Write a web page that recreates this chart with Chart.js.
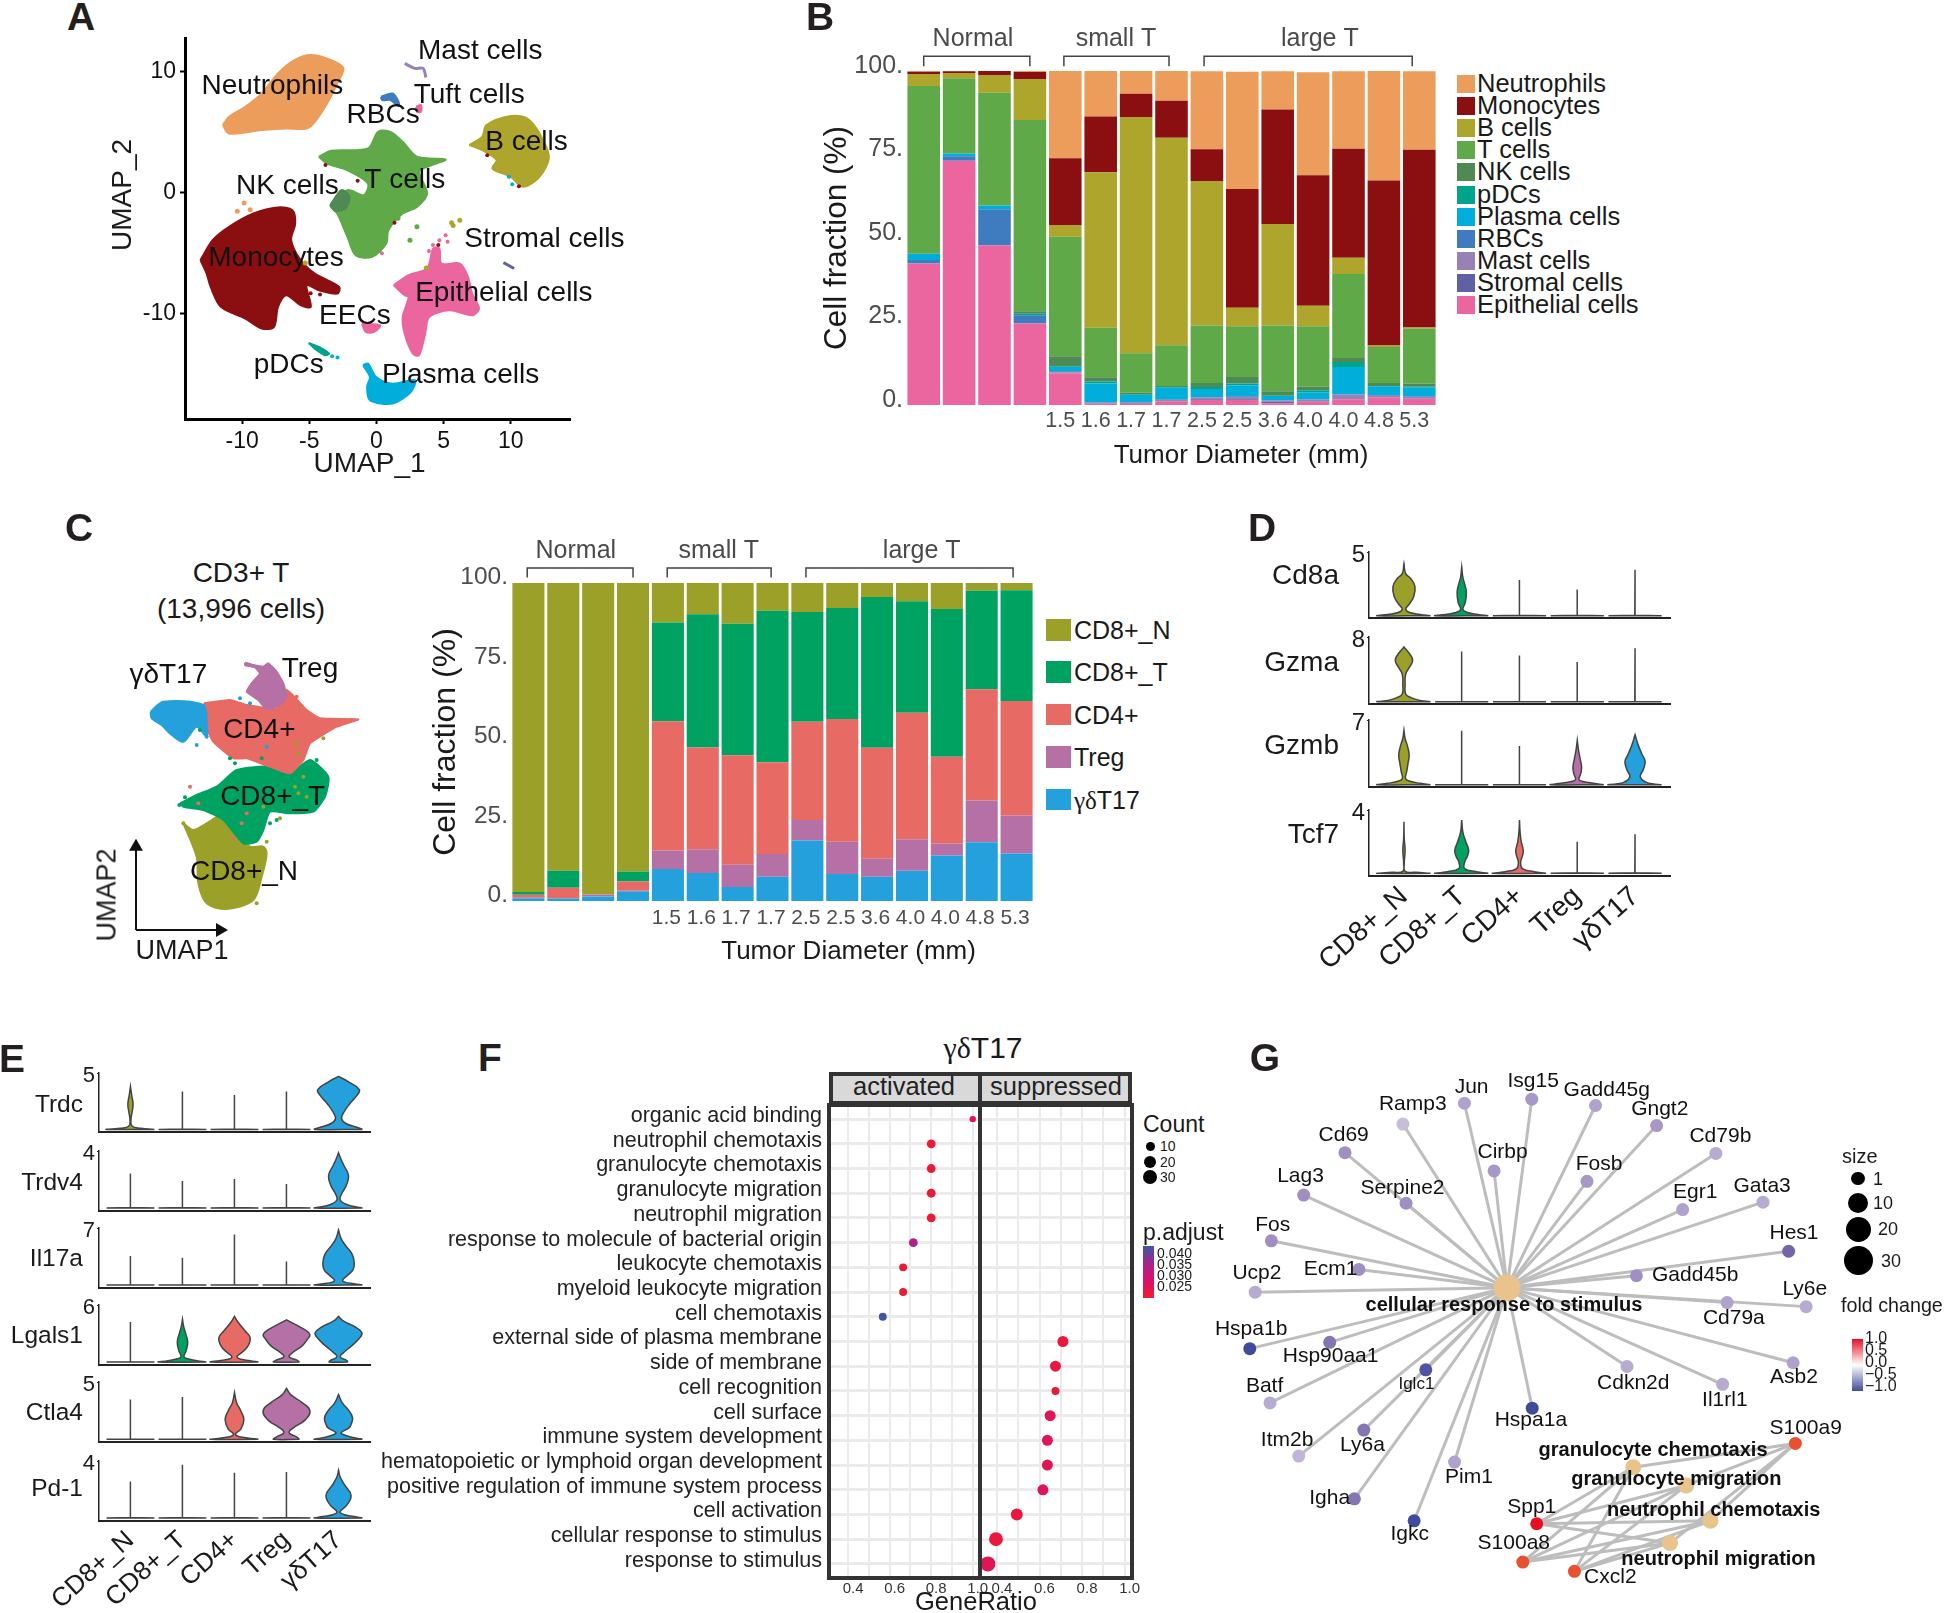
<!DOCTYPE html>
<html>
<head>
<meta charset="utf-8">
<title>T cell figure</title>
<script src="https://cdn.jsdelivr.net/npm/chart.js@4.4.0/dist/chart.umd.js"></script>
<style>
  html, body { margin: 0; background: #fff; }
  #page { position: relative; width: 1944px; height: 1613px; overflow: hidden; font-family: "Liberation Sans", Arial, sans-serif; }
  #page canvas { position: absolute; }
  .lbl { position: absolute; white-space: nowrap; line-height: 1; color: #1a1a1a; }
  .box { position: absolute; }
</style>
</head>
<body>
<div id="page"></div>
<script>
// ---------- panel A: UMAP cluster outlines (UMAP_1, UMAP_2)
const neutrophilOutline = [[-11.43,5.59],[-10.97,6.28],[-9.76,7.11],[-8.54,8.21],[-7.33,9.86],[-6.11,10.96],[-4.89,11.38],[-3.37,10.96],[-2.46,10.28],[-2.92,9.04],[-3.68,7.38],[-4.59,5.87],[-5.2,5.32],[-6.72,5.32],[-8.54,5.18],[-10.97,4.9]];
const monocyteOutline = [[-13.1,-5.56],[-12.19,-3.91],[-10.97,-2.81],[-9.15,-1.71],[-7.33,-1.21],[-6.26,-1.43],[-6.05,-2.53],[-6.35,-3.91],[-5.65,-5.56],[-4.59,-6.67],[-2.77,-7.77],[-2.92,-8.32],[-4.29,-8.04],[-5.2,-7.63],[-4.89,-9.42],[-5.65,-9.28],[-6.72,-8.46],[-7.33,-9.42],[-7.63,-11.07],[-8.54,-11.21],[-9.76,-10.39],[-11.58,-9.42],[-12.34,-7.77],[-12.64,-6.67]];
const tCellOutline = [[-4.29,2.98],[-3.37,3.47],[-0.64,3.66],[0.12,5.04],[1.03,5.04],[1.95,4.21],[3.01,2.98],[5.14,2.75],[3.77,2.15],[3.16,1.74],[3.77,-0.06],[3.01,-1.16],[1.95,-1.71],[0.88,-3.09],[0.73,-4.19],[-0.33,-5.29],[-1.55,-5.15],[-2.16,-3.64],[-2.92,-1.71],[-3.43,-1.02],[-2.16,0.22],[-0.94,-0.19],[-0.64,0.77],[-2.16,1.87],[-3.68,2.42]];
const nkOutline = [[-3.43,-1.02],[-2.61,0.22],[-2.01,-0.33],[-2.31,-1.29],[-3.07,-1.49]];
const bCellOutline = [[6.9,3.94],[7.87,4.63],[8.18,5.59],[10,6.34],[11.22,6.14],[12.13,4.9],[12.83,2.98],[12.13,1.32],[10.91,0.5],[10,1.32],[8.63,2.01],[8.94,2.7],[7.87,3.53]];
const epithelialOutline = [[1.28,-7.63],[2.4,-6.8],[3.77,-6.25],[4.22,-4.6],[4.68,-4.6],[4.83,-5.84],[6.2,-5.84],[6.81,-6.94],[7.11,-8.32],[7.63,-9.56],[7.11,-10.11],[5.44,-9.7],[3.92,-10.25],[3.62,-11.63],[3.16,-13.42],[2.71,-13.28],[2.1,-11.63],[1.95,-10.25],[2.4,-8.6],[2.1,-8.46]];
const eecOutline = [[-1.09,-10.8],[0.27,-10.94],[-0.18,-11.49],[-0.79,-11.49]];
const plasmaOutline = [[-1,-14.24],[-0.64,-14.1],[-0.03,-15.21],[1.19,-15.76],[2.86,-15.48],[2.55,-16.45],[1.19,-17.41],[-0.49,-17.13],[-0.7,-16.03],[-0.49,-15.21]];
const pdcOutline = [[-5.05,-12.4],[-4.29,-12.73],[-3.53,-13.28],[-3.83,-13.42],[-4.59,-12.87]];
const rbcOutline = [[0.33,7.93],[1.19,8.2],[1.64,7.52],[1.64,7.16],[1.03,7.66],[0.43,7.66]];
const tuftOutline = [[2.95,7.11],[3.31,7.25],[3.31,6.69],[3.01,6.69]];
const mastTrace = [[2.1,10.69],[2.86,10.28],[3.47,10.28],[3.68,9.53]];
const stromalTrace = [[9.45,-5.76],[10.24,-6.25]];
const strayOrange = [[-10.36,-1.52],[-9.85,-0.83],[-9.4,-1.4]];
const strayRed = [[8.24,3.11],[10.6,0.55],[1.34,-2.48],[-1.4,1.0],[-3.8,2.3],[-4.2,-8.4],[-4.9,-8.3],[4.6,-4.3]];
const strayGreen = [[3.01,-2.81],[2.49,-3.91],[1.6,-2.1],[1.2,-1.9]];
const strayOlive = [[5.59,-2.48],[6.2,-2.26],[5.7,-2.7],[-5.3,-5.8],[3.7,-6.2]];
const strayPink = [[5.14,-3.5],[4.68,-3.91],[5.29,-4.05],[4.2,-4.3],[0.4,-5.0],[3.9,-4.8]];
const strayBlue = [[9.85,1.32],[10.1,0.7],[-2.9,-13.6],[-3.3,-13.5]];
const umapClusterLabels = ['Mast cells','Neutrophils','Tuft cells','RBCs','B cells','T cells','NK cells','Stromal cells','Monocytes','Epithelial cells','EECs','pDCs','Plasma cells'];
const umapClusterLabelX = [7.72,-7.75,6.9,0.49,11.16,2.1,-6.63,12.49,-7.48,9.48,-1.61,-6.53,6.26];
const umapClusterLabelY = [11.65,8.76,8.07,6.42,4.21,1.05,0.55,-3.86,-5.43,-8.32,-10.17,-14.24,-15.07];

// ---------- panel B: cell fractions
const diameters = ['','','','','1.5','1.6','1.7','1.7','2.5','2.5','3.6','4.0','4.0','4.8','5.3'];
const cellNames = ['Neutrophils','Monocytes','B cells','T cells','NK cells','pDCs','Plasma cells','RBCs','Mast cells','Stromal cells','Epithelial cells'];
const neutrophils = [.2,.1,.1,.3,26.2,13.6,6.8,8.9,23.3,35.1,11.4,30.8,23.2,32.8,23.5];
const monocytes = [.7,.5,1.2,2.1,20,16.7,7,11.1,9.5,35.6,34.3,39.1,32.6,49.4,53.2];
const bCells = [3.6,1.6,5.3,12.3,3.5,46.6,70.7,62.1,43.3,5.5,30.4,6.1,4.9,.4,.4];
const tCells = [50.1,22.5,33.8,57.2,35.8,14.8,11.8,12.2,17.2,15.2,19.7,18.1,25.1,10.8,16.4];
const nkCells = [.1,0,0,.8,3,1.3,.5,.3,1.2,2,1.3,1.1,1.2,.9,.9];
const pDCs = [.1,0,0,.4,.2,.6,.2,.2,.6,.5,.1,.6,1.5,.1,.2];
const plasmaCells = [1.8,.8,1.1,0,1.3,5.7,2.3,3.6,2.4,3.3,1.3,2.1,8.2,2.6,2.6];
const rbcs = [1,1.4,10.8,2.5,.3,0,0,.1,.1,.2,.1,.1,.1,.2,.2];
const mastCells = [.1,0,0,0,.3,.2,.1,.3,.6,.7,.3,.5,1.3,.4,.5];
const stromalCells = [0,0,0,0,0,0,0,.1,.2,.2,.5,.1,.1,.1,.1];
const epithelialCells = [42.3,73.1,47.8,24.4,9.5,.5,.6,1.1,1.5,1.5,.5,1,1.7,2.3,1.9];
const cellColors = ['#ED9D5B','#8B0F10','#ADA52C','#5FA948','#4F8A55','#00A48A','#00AEDB','#3E7CBF','#9781B5','#6160A4','#EB659E'];
const fractionTicks = [0,25,50,75,100];
const groupNames = ['Normal','small T','large T'];

// ---------- panel C: T cell subsets
const tSubsets = ['CD8+_N','CD8+_T','CD4+','Treg','γδT17'];
const cd8N = [97.2,90.5,97.8,90.7,12.4,9.8,12.8,8.7,9.1,7.9,4.4,5.7,8.2,2.4,2.3];
const cd8T = [.8,5.3,.1,3.2,31.1,41.9,41.4,47.7,34.5,34.9,47.4,35.1,46.4,31,34.8];
const cd4 = [1,3.4,.1,2.9,40.6,32,34.4,28.8,30.9,38.6,34.9,39.8,27.3,35,36];
const treg = [.1,0,.6,.1,5.8,7.5,7,7.2,6.5,10.1,5.7,9.9,3.8,13.1,12];
const gdT17 = [.9,.8,1.4,3.1,10.1,8.8,4.4,7.6,19,8.5,7.6,9.5,14.3,18.5,14.9];
const subsetColors = ['#9BA128','#00A261','#E76A64','#B570A5','#24A1DC'];
const gdOutline = [[302,605],[340,575],[460,585],[470,640],[470,680],[440,650],[400,695],[360,670],[335,645],[305,625]];
const cd4Outline = [[462,580],[540,570],[590,585],[680,595],[710,540],[770,600],[810,625],[925,628],[860,650],[780,700],[760,750],[720,790],[660,770],[590,745],[550,745],[490,695],[465,640]];
const tregOutline = [[585,458],[610,465],[640,470],[655,460],[680,485],[700,520],[710,560],[690,585],[650,598],[625,570],[590,545],[605,520],[630,490],[615,472],[585,465]];
const cd8TOutline = [[390,880],[440,855],[500,830],[560,780],[650,770],[720,790],[780,750],[835,800],[825,860],[790,905],[720,910],[660,905],[640,960],[620,995],[580,1000],[520,930],[460,900],[400,890]];
const cd8NOutline = [[400,940],[430,960],[470,940],[530,910],[570,980],[600,1010],[640,1010],[650,1030],[635,1100],[610,1170],[530,1197],[470,1180],[445,1120],[440,1040]];
const strayCd4 = [[420,830],[445,880],[590,910],[550,985],[575,940],[780,640],[800,665],[760,700],[840,640],[905,630],[770,690],[740,560]];
const strayCd8T = [[388,885],[405,862],[555,760],[800,750],[660,940],[680,930],[540,745],[635,745],[450,660]];
const strayCd8N = [[400,940],[650,995],[620,1180],[740,700],[745,850],[760,800],[735,830],[770,860],[745,730],[640,890],[690,925],[820,685]];
const strayGd = [[440,705],[470,680],[435,630],[570,565],[600,580],[650,710]];
const subsetMapLabels = ['γδT17','Treg','CD4+','CD8+_T','CD8+_N'];
const subsetMapLabelX = [355,780,628,668,582];
const subsetMapLabelY = [497,477,660,862,1088];

// ---------- panels D and E: violin profiles, [expression, half width] from the base up
const spike = top => [[0,.46],[.03,.004],[top,0]];
const geneCd8a = [
  [[0,.46],[.1,.28],[.25,.1],[.5,.03],[.9,.09],[1.5,.17],[2.3,.19],[2.9,.12],[3.3,.03],[4.08,0]],
  [[0,.46],[.1,.28],[.25,.1],[.5,.02],[1,.06],[1.84,.08],[2.5,.05],[3,.02],[3.82,0]],
  spike(2.8), spike(2.05), spike(3.6)];
const geneGzma = [
  [[0,.46],[.15,.28],[.5,.12],[.95,.03],[2,.02],[3.4,.03],[4.2,.09],[5.1,.15],[5.9,.1],[6.76,0]],
  spike(6.2), spike(5.7), spike(4.9), spike(6.6)];
const geneGzmb = [
  [[0,.46],[.15,.28],[.35,.12],[.65,.03],[1.5,.05],[2.3,.07],[3.2,.09],[4.2,.06],[5,.02],[5.9,0]],
  spike(5.83), spike(4.2),
  [[0,.46],[.15,.28],[.35,.1],[.55,.03],[1.2,.06],[1.9,.075],[2.8,.05],[3.8,.02],[4.8,0]],
  [[0,.46],[.1,.3],[.3,.18],[.85,.09],[1.6,.14],[2.5,.175],[3.3,.12],[4.2,.06],[5.4,0]]];
const geneTcf7 = [
  [[0,.46],[.06,.2],[.12,.02],[.6,.005],[1.47,.02],[2.2,.005],[3.26,0]],
  [[0,.46],[.1,.25],[.3,.05],[.7,.05],[1.1,.1],[1.47,.12],[2,.07],[2.6,.02],[3.37,0]],
  [[0,.46],[.1,.25],[.3,.05],[.7,.02],[1.1,.05],[1.43,.065],[2,.03],[2.6,.01],[3.37,0]],
  spike(2), spike(2.46)];
const geneTrdc = [
  [[0,.46],[.1,.2],[.3,.03],[.9,.01],[1.5,.03],[2.22,.05],[3,.025],[3.8,0]],
  spike(3.37), spike(3.04), spike(3.37),
  [[0,.46],[.15,.38],[.5,.15],[.92,.06],[1.5,.1],[2.3,.22],[3,.35],[3.53,.4],[4.2,.2],[4.7,0]]];
const geneTrdv4 = [
  spike(2.42), spike(1.9), spike(2.03), spike(1.68),
  [[0,.46],[.1,.3],[.3,.12],[.58,.03],[1,.06],[1.6,.15],[2.29,.19],[3,.1],[3.4,.05],[3.87,0]]];
const geneIl17a = [
  spike(3.55), spike(3.36), spike(6.2), spike(2.9),
  [[0,.46],[.15,.3],[.35,.12],[.6,.08],[1.1,.16],[1.9,.28],[2.76,.3],[3.8,.26],[4.8,.14],[5.7,.05],[6.77,0]]];
const geneLgals1 = [
  spike(4.2),
  [[0,.46],[.15,.28],[.35,.1],[.55,.03],[1.2,.07],[2.1,.1],[3,.06],[3.8,.02],[4.5,0]],
  [[0,.46],[.15,.3],[.3,.12],[.55,.05],[1,.14],[1.7,.26],[2.57,.3],[3.3,.2],[4.1,.08],[4.8,0]],
  [[0,.25],[.2,.2],[.55,.05],[1,.12],[1.7,.3],[2.4,.4],[2.88,.45],[3.4,.35],[4.44,0]],
  [[0,.18],[.15,.16],[.55,.03],[1,.1],[1.7,.25],[2.5,.4],[3.07,.45],[3.7,.32],[4.3,.1],[4.8,0]]];
const geneCtla4 = [
  spike(3.48), spike(3.7),
  [[0,.46],[.12,.25],[.3,.05],[.48,.02],[.9,.12],[1.7,.18],[2.5,.12],[3.2,.04],[4.1,0]],
  [[0,.25],[.2,.2],[.58,.05],[1,.13],[1.7,.36],[2.5,.45],[3.2,.3],[3.9,.08],[4.45,0]],
  [[0,.46],[.15,.3],[.4,.1],[.58,.05],[1,.2],[1.3,.24],[1.87,.27],[2.5,.2],[3.2,.07],[3.9,0]]];
const genePd1 = [
  spike(2.57), spike(3.74), spike(3.17), spike(3.22),
  [[0,.46],[.1,.3],[.25,.1],[.44,.03],[.9,.16],[1.6,.24],[2.3,.12],[2.9,.03],[3.35,0]]];

// ---------- panel F: GO dot plot
const goTerms = ['organic acid binding','neutrophil chemotaxis','granulocyte chemotaxis','granulocyte migration','neutrophil migration','response to molecule of bacterial origin','leukocyte chemotaxis','myeloid leukocyte migration','cell chemotaxis','external side of plasma membrane','side of membrane','cell recognition','cell surface','immune system development','hematopoietic or lymphoid organ development','positive regulation of immune system process','cell activation','cellular response to stimulus','response to stimulus'];
const activatedRatio = [1,.8,.8,.8,.8,.714,.665,.665,.567];
const activatedCount = [5,10,10,10,10,10,8,8,8];
const activatedPadj = [.027,.023,.023,.023,.023,.034,.023,.023,.042];
const suppressedRatio = [.71,.675,.675,.65,.637,.637,.616,.493,.395,.357];
const suppressedCount = [16,16,8,16,16,16,16,19,26,31];
const suppressedPadj = [.024,.024,.024,.027,.027,.027,.028,.024,.024,.027];

// ---------- panel G: gene network layout
const geneNames = ['Ramp3','Jun','Isg15','Gadd45g','Gngt2','Cd79b','Cirbp','Fosb','Cd69','Lag3','Serpine2','Egr1','Gata3','Fos','Hes1','Ecm1','Gadd45b','Ucp2','Ly6e','Cd79a','Hspa1b','Hsp90aa1','Iglc1','Batf','Cdkn2d','Il1rl1','Asb2','Hspa1a','Itm2b','Ly6a','Pim1','Igha','Igkc'];
const geneX = [363,500,650,792,928,1060,566,773,234,142,370,986,1165,70,1222,265,883,34,1261,1085,22,200,414,67,862,1075,1232,651,131,276,478,255,388];
const geneY = [253,197,186,203,257,332,379,407,330,444,466,483,463,567,595,644,661,705,744,733,857,840,914,1003,905,953,895,1017,1146,1076,1162,1261,1320];
const geneFold = [-.2,-.35,-.4,-.35,-.4,-.3,-.4,-.4,-.45,-.45,-.45,-.35,-.3,-.45,-.7,-.45,-.45,-.3,-.3,-.35,-1,-.6,-.9,-.3,-.3,-.3,-.35,-1,-.25,-.6,-.35,-.6,-1];
const geneLabelX = [385,516,653,817,935,1070,585,800,231,135,362,1014,1163,73,1234,202,1014,38,1258,1100,25,202,393,55,876,1080,1234,648,105,273,510,200,378];
const geneLabelY = [200,153,138,162,212,285,328,360,283,394,425,435,420,524,546,643,660,655,696,775,805,877,952,957,950,997,935,1050,1103,1116,1202,1258,1355];
const termNames = ['granulocyte chemotaxis','granulocyte migration','neutrophil chemotaxis','neutrophil migration'];
const termX = [876,994,1048,958];
const termY = [1176,1225,1320,1380];
const termLabelX = [920,972,1055,1066];
const termLabelY = [1130,1208,1292,1425];
const sharedGenes = ['S100a9','Spp1','S100a8','Cxcl2'];
const sharedX = [1237,661,630,745];
const sharedY = [1112,1328,1431,1456];
const sharedFold = [.8,1,.8,.8];
const sharedLabelX = [1260,650,610,825];
const sharedLabelY = [1072,1283,1380,1472];

// ---------- helpers
const FONT = '"Liberation Sans", Arial, sans-serif';
Chart.defaults.font.family = FONT;
const page = document.getElementById('page');

function greek(text) {
  return text.replace('γδ', '<span style="font-family:\'Liberation Serif\'">γδ</span>');
}

function label(text, x, y, size, opt) {
  opt = opt || {};
  const el = document.createElement('div');
  el.className = 'lbl';
  el.innerHTML = greek(text);
  el.style.left = x + 'px';
  el.style.top = y + 'px';
  el.style.fontSize = size + 'px';
  if (opt.bold) el.style.fontWeight = 'bold';
  if (opt.color) el.style.color = opt.color;
  const shift = opt.anchor === 'left' ? '0' : opt.anchor === 'right' ? '-100%' : '-50%';
  el.style.transform = 'translate(' + shift + ',-50%)' + (opt.rot ? ' rotate(' + opt.rot + 'deg)' : '');
  page.appendChild(el);
}

function rect(x, y, w, h, css) {
  const el = document.createElement('div');
  el.className = 'box';
  el.style.cssText = 'left:' + x + 'px;top:' + y + 'px;width:' + w + 'px;height:' + h + 'px;' + css;
  page.appendChild(el);
  return el;
}

function hex(c) {
  return [1, 3, 5].map(i => parseInt(c.substr(i, 2), 16));
}

function rampColor(stops, v) {
  if (v <= stops[0][0]) return stops[0][1];
  for (let i = 1; i < stops.length; i++) {
    if (v <= stops[i][0]) {
      const t = (v - stops[i - 1][0]) / (stops[i][0] - stops[i - 1][0]);
      const a = hex(stops[i - 1][1]), b = hex(stops[i][1]);
      return 'rgb(' + a.map((n, k) => Math.round(n + (b[k] - n) * t)).join(',') + ')';
    }
  }
  return stops[stops.length - 1][1];
}

// the label overhang padding chart.js adds would move the chart area, so drop it
function noOverhang(s) {
  s.paddingTop = 0;
  s.paddingBottom = 0;
  s.paddingLeft = 0;
  s.paddingRight = 0;
}

// chart area is pinned to the page box l,t,r,b. margins hold the axes
function panel(box, config) {
  const ml = box.ml || 0, mt = box.mt || 0, mr = box.mr || 0, mb = box.mb || 0;
  const canvas = document.createElement('canvas');
  canvas.width = Math.round(box.r - box.l + ml + mr);
  canvas.height = Math.round(box.b - box.t + mt + mb);
  canvas.style.left = (box.l - ml) + 'px';
  canvas.style.top = (box.t - mt) + 'px';
  page.appendChild(canvas);
  const o = config.options;
  o.responsive = false;
  o.animation = false;
  o.devicePixelRatio = 1;
  o.layout = { autoPadding: false, padding: { top: mt, right: mr, left: 0, bottom: 0 } };
  o.plugins = Object.assign({ legend: { display: false }, tooltip: { enabled: false } }, o.plugins);
  o.scales.x.afterFit = s => { s.height = mb; noOverhang(s); };
  o.scales.y.afterFit = s => { s.width = ml; noOverhang(s); };
  return new Chart(canvas, config);
}

const notesPlugin = {
  id: 'notes',
  afterDatasetsDraw(chart, args, opts) {
    const ctx = chart.ctx;
    ctx.save();
    ctx.textAlign = 'center';
    ctx.textBaseline = 'middle';
    ctx.fillStyle = '#111';
    (opts.items || []).forEach(n => {
      ctx.font = (n.bold ? 'bold ' : '') + n.size + 'px ' + FONT;
      ctx.fillText(n.text, chart.scales.x.getPixelForValue(n.x), chart.scales.y.getPixelForValue(n.y));
    });
    ctx.restore();
  }
};

const bracketPlugin = {
  id: 'brackets',
  afterDraw(chart, args, opts) {
    if (!opts.from) return;
    const ctx = chart.ctx, xs = chart.scales.x, top = chart.chartArea.top;
    ctx.save();
    ctx.strokeStyle = '#444';
    ctx.lineWidth = 1.5;
    ctx.fillStyle = '#4a4a4a';
    ctx.font = opts.size + 'px ' + FONT;
    ctx.textAlign = 'center';
    ctx.textBaseline = 'middle';
    opts.from.forEach((f, i) => {
      const x0 = xs.getPixelForValue(f), x1 = xs.getPixelForValue(opts.to[i]);
      ctx.beginPath();
      ctx.moveTo(x0, top - opts.legEnd);
      ctx.lineTo(x0, top - opts.rise);
      ctx.lineTo(x1, top - opts.rise);
      ctx.lineTo(x1, top - opts.legEnd);
      ctx.stroke();
      ctx.fillText(opts.names[i], xs.getPixelForValue(opts.labelAt[i]), top - opts.textRise);
    });
    ctx.restore();
  }
};

const framePlugin = {
  id: 'frame',
  afterDraw(chart, args, opts) {
    if (!opts.color) return;
    const a = chart.chartArea, ctx = chart.ctx;
    ctx.save();
    ctx.strokeStyle = opts.color;
    ctx.lineWidth = opts.width;
    ctx.strokeRect(a.left, a.top, a.right - a.left, a.bottom - a.top);
    ctx.restore();
  }
};
Chart.register(notesPlugin, bracketPlugin, framePlugin);

const pts = pairs => pairs.map(p => ({ x: p[0], y: p[1] }));
const closed = pairs => pts(pairs.concat([pairs[0]]));

function blob(pairs, color, tension) {
  return { data: closed(pairs), showLine: true, fill: 'shape', backgroundColor: color, borderColor: color,
    borderWidth: 2, pointRadius: 0, tension: tension === undefined ? .3 : tension };
}
function trace(pairs, color, width) {
  return { data: pts(pairs), showLine: true, borderColor: color, borderWidth: width, pointRadius: 0, tension: .3 };
}
function dots(pairs, color, r) {
  return { data: pts(pairs), backgroundColor: color, borderWidth: 0, pointRadius: r };
}
function noteList(names, xs, ys, size, bold) {
  return names.map((t, i) => ({ text: t, x: xs[i], y: ys[i], size: size, bold: bold }));
}

// ---------- A
panel({ l: 184.5, t: 37, r: 569, b: 419, ml: 60, mb: 50, mr: 80 }, {
  type: 'scatter',
  data: { datasets: [
    dots(strayRed, '#8B0F10', 2), dots(strayOrange, '#ED9D5B', 2.5), dots(strayGreen, '#5FA948', 2.5),
    dots(strayOlive, '#ADA52C', 2.5), dots(strayPink, '#EB659E', 2), dots(strayBlue, '#00AEDB', 2),
    blob(nkOutline, '#4F8A55'), blob(neutrophilOutline, '#ED9D5B'), blob(monocyteOutline, '#8B0F10'),
    blob(tCellOutline, '#5FA948'), blob(bCellOutline, '#ADA52C'), blob(epithelialOutline, '#EB659E'),
    blob(eecOutline, '#EB659E'), blob(plasmaOutline, '#00AEDB'), blob(pdcOutline, '#00A48A', .2),
    blob(rbcOutline, '#3E7CBF'), blob(tuftOutline, '#EB659E'),
    trace(mastTrace, '#9781B5', 3), trace(stromalTrace, '#6160A4', 3)
  ] },
  options: {
    scales: {
      x: { type: 'linear', min: -14.25, max: 14.4,
        afterBuildTicks: a => { a.ticks = [-10, -5, 0, 5, 10].map(v => ({ value: v })); },
        ticks: { font: { size: 23 }, color: '#111', padding: 4, callback: v => String(v) },
        grid: { drawOnChartArea: false, color: '#000', tickLength: 5, tickWidth: 2 },
        border: { color: '#000', width: 3 } },
      y: { type: 'linear', min: -18.68, max: 12.87,
        afterBuildTicks: a => { a.ticks = [-10, 0, 10].map(v => ({ value: v })); },
        ticks: { font: { size: 23 }, color: '#111', padding: 4, callback: v => String(v) },
        grid: { drawOnChartArea: false, color: '#000', tickLength: 5, tickWidth: 2 },
        border: { color: '#000', width: 3 } }
    },
    plugins: { notes: { items: noteList(umapClusterLabels, umapClusterLabelX, umapClusterLabelY, 28) } }
  }
});
label('UMAP_1', 369.6, 463, 28);
label('UMAP_2', 122, 195, 28, { rot: -90 });

// ---------- stacked bars B and C
function fractionBars(box, series, names, colors, groups, tickOff, catOff, tickSize, catSize, catPad, titleSize) {
  const datasets = series.map((vals, i) => ({ label: names[i], data: vals, backgroundColor: colors[i],
    barPercentage: .92, categoryPercentage: 1, borderWidth: 0 })).reverse();
  panel(box, {
    type: 'bar',
    data: { labels: diameters, datasets: datasets },
    options: {
      scales: {
        x: { stacked: true, grid: { display: false, drawTicks: false }, border: { display: false },
          ticks: { autoSkip: false, maxRotation: 0, minRotation: 0, font: { size: catSize }, color: '#4d4d4d', padding: catPad, labelOffset: catOff } },
        y: { stacked: true, min: 0, max: 100,
          afterBuildTicks: a => { a.ticks = fractionTicks.map(v => ({ value: v })); },
          grid: { display: false, drawTicks: false }, border: { display: false },
          ticks: { font: { size: tickSize }, color: '#4d4d4d', padding: 3, labelOffset: tickOff, callback: v => v + '.' },
          title: { display: true, text: 'Cell fraction (%)', font: { size: titleSize }, color: '#1a1a1a', padding: 0 } }
      },
      plugins: { brackets: Object.assign({ names: groupNames, size: 25 }, groups) }
    }
  });
}

fractionBars({ l: 906, t: 70.7, r: 1437, b: 405, ml: 88, mt: 70, mb: 40 },
  [neutrophils, monocytes, bCells, tCells, nkCells, pDCs, plasmaCells, rbcs, mastCells, stromalCells, epithelialCells],
  cellNames, cellColors,
  { from: [0, 3.96, 7.92], to: [3, 6.93, 13.8], labelAt: [1.39, 5.43, 11.19], rise: 14.7, legEnd: 4.7, textRise: 32 },
  -5, -5, 25, 21.5, 3, 31.5);
label('Tumor Diameter (mm)', 1241, 454, 26);
cellNames.forEach((n, i) => {
  rect(1457, 75 + i * 22.1, 18, 18, 'background:' + cellColors[i]);
  label(n, 1477, 84 + i * 22.1, 25.5, { anchor: 'left' });
});

fractionBars({ l: 510.8, t: 583.3, r: 1033.8, b: 901.7, ml: 84, mt: 50, mb: 40 },
  [cd8N, cd8T, cd4, treg, gdT17], tSubsets, subsetColors,
  { from: [-.035, 3.98, 7.96], to: [3, 6.96, 13.9], labelAt: [1.36, 5.46, 11.28], rise: 15, legEnd: 5.6, textRise: 32 },
  -5.5, -1.5, 24.5, 21, 5, 32);
label('Tumor Diameter (mm)', 848.6, 950, 26);
tSubsets.forEach((n, i) => {
  rect(1046, 619 + i * 42.4, 24.5, 21.7, 'background:' + subsetColors[i]);
  label(n, 1074, 630 + i * 42.4, 25, { anchor: 'left' });
});

// ---------- C map
label('CD3+ T', 241, 573, 28);
label('(13,996 cells)', 241, 609, 28);
panel({ l: 50, t: 510, r: 550, b: 970 }, {
  type: 'scatter',
  data: { datasets: [
    { data: pts([[258, 1260], [258, 1010]]), showLine: true, borderColor: '#111', borderWidth: 2, backgroundColor: '#111',
      pointStyle: 'triangle', pointRadius: [0, 8], pointRotation: [0, 0], pointBorderWidth: 0 },
    { data: pts([[258, 1260], [510, 1260]]), showLine: true, borderColor: '#111', borderWidth: 2, backgroundColor: '#111',
      pointStyle: 'triangle', pointRadius: [0, 8], pointRotation: [0, 90], pointBorderWidth: 0 },
    dots(strayGd, subsetColors[4], 2), dots(strayCd8N, subsetColors[0], 2), dots(strayCd4, subsetColors[2], 2),
    dots(strayCd8T, subsetColors[1], 2),
    blob(tregOutline, subsetColors[3], .1), blob(gdOutline, subsetColors[4]), blob(cd4Outline, subsetColors[2], .15),
    blob(cd8TOutline, subsetColors[1], .2), blob(cd8NOutline, subsetColors[0])
  ] },
  options: {
    scales: {
      x: { type: 'linear', display: false, min: 0, max: 1500 },
      y: { type: 'linear', display: false, min: 0, max: 1380, reverse: true }
    },
    plugins: { notes: { items: noteList(subsetMapLabels, subsetMapLabelX, subsetMapLabelY, 28) } }
  }
});
label('UMAP2', 107, 895, 27, { rot: -90 });
label('UMAP1', 182, 950, 27);

// ---------- violins D and E
function violinRow(box, profiles, max, min, fontSize, showNames) {
  const datasets = profiles.map((prof, c) => {
    const right = prof.map(p => ({ x: c + p[1], y: p[0] }));
    const left = prof.slice().reverse().map(p => ({ x: c - p[1], y: p[0] }));
    return { data: right.concat(left, [right[0]]), showLine: true, fill: 'shape', backgroundColor: subsetColors[c],
      borderColor: '#444', borderWidth: 1.5, pointRadius: 0, tension: prof.length > 3 ? .45 : 0 };
  });
  panel(box, {
    type: 'scatter',
    data: { datasets: datasets },
    options: {
      scales: {
        x: { type: 'linear', min: -.605, max: 4.605,
          afterBuildTicks: a => { a.ticks = [0, 1, 2, 3, 4].map(v => ({ value: v })); },
          grid: { display: false, drawTicks: false }, border: { color: '#222', width: 2 },
          ticks: { display: showNames, autoSkip: false, minRotation: 42, maxRotation: 42, padding: 4,
            font: { size: fontSize }, color: '#1a1a1a', callback: v => tSubsets[v] } },
        y: { type: 'linear', min: min, max: max,
          afterBuildTicks: a => { a.ticks = [{ value: max }]; },
          grid: { drawOnChartArea: false, color: '#222', tickLength: 2 }, border: { color: '#222', width: 1.5 },
          ticks: { font: { size: fontSize === 28 ? 24 : 22 }, color: '#1a1a1a', padding: 2, labelOffset: 3, callback: v => String(v) } }
      }
    }
  });
}

const rowsD = [
  { gene: 'Cd8a', p: geneCd8a, max: 5, min: -.18, t: 551.7, b: 617.3, ly: 575 },
  { gene: 'Gzma', p: geneGzma, max: 8, min: -.29, t: 636.7, b: 703.3, ly: 662 },
  { gene: 'Gzmb', p: geneGzmb, max: 7, min: -.25, t: 720, b: 786.7, ly: 745 },
  { gene: 'Tcf7', p: geneTcf7, max: 4, min: -.17, t: 810, b: 876, ly: 834 }
];
rowsD.forEach((row, i) => {
  const last = i === rowsD.length - 1;
  violinRow({ l: 1368.7, r: 1670, t: row.t, b: row.b, ml: last ? 90 : 34, mt: 14, mb: last ? 110 : 4, mr: 4 }, row.p, row.max, row.min, 28, last);
  label(row.gene, 1339, row.ly, 28, { anchor: 'right' });
});

const rowsE = [
  { gene: 'Trdc', p: geneTrdc, max: 5, min: -.23, t: 1072.8, b: 1132.2, ly: 1104 },
  { gene: 'Trdv4', p: geneTrdv4, max: 4, min: -.21, t: 1150.8, b: 1210.3, ly: 1181.7 },
  { gene: 'Il17a', p: geneIl17a, max: 7, min: -.37, t: 1228.1, b: 1287.6, ly: 1258 },
  { gene: 'Lgals1', p: geneLgals1, max: 6, min: -.31, t: 1305.1, b: 1365.3, ly: 1335 },
  { gene: 'Ctla4', p: geneCtla4, max: 5, min: -.23, t: 1382.4, b: 1442.6, ly: 1412 },
  { gene: 'Pd-1', p: genePd1, max: 4, min: -.21, t: 1460.5, b: 1520.7, ly: 1488 }
];
rowsE.forEach((row, i) => {
  const last = i === rowsE.length - 1;
  violinRow({ l: 99.3, r: 370.7, t: row.t, b: row.b, ml: last ? 90 : 30, mt: 14, mb: last ? 92 : 4, mr: 4 }, row.p, row.max, row.min, 26, last);
  label(row.gene, 83, row.ly, 24.5, { anchor: 'right' });
});

// ---------- F
const padjStops = [[.022, '#EE1C2E'], [.03, '#D8106E'], [.035, '#A8248C'], [.042, '#3F55A5']];
const countRadius = c => 1.3 * Math.sqrt(c) + .3;

function goPanel(box, ratios, counts, padj, firstRow, xMin, showTerms, labelOff) {
  panel(box, {
    type: 'bubble',
    data: { datasets: [{
      data: ratios.map((v, i) => ({ x: v, y: firstRow + i, r: countRadius(counts[i]) })),
      backgroundColor: padj.map(p => rampColor(padjStops, p)),
      borderWidth: 0
    }] },
    options: {
      scales: {
        x: { type: 'linear', min: xMin, max: 1.035,
          afterBuildTicks: a => { a.ticks = [.4, .5, .6, .7, .8, .9, 1].map(v => ({ value: v })); },
          grid: { color: '#ebebeb', lineWidth: 2, drawTicks: false }, border: { display: false },
          ticks: { autoSkip: false, maxRotation: 0, font: { size: 15 }, color: '#333', padding: 2, labelOffset: labelOff,
            callback: v => ([.4, .6, .8, 1].some(t => Math.abs(t - v) < .01) ? v.toFixed(1) : '') } },
        y: { type: 'linear', min: -.57, max: 18.57, reverse: true,
          afterBuildTicks: a => { a.ticks = goTerms.map((t, i) => ({ value: i })); },
          grid: { color: '#ebebeb', lineWidth: 3, drawTicks: false }, border: { display: false },
          ticks: { display: showTerms, autoSkip: false, font: { size: 21.5 }, color: '#222', padding: 7, labelOffset: -3,
            callback: v => goTerms[v] } }
      },
      plugins: { frame: { color: '#333', width: 4 } }
    }
  });
}

label('γδT17', 983, 1048, 30);
rect(829, 1072, 151, 31, 'background:#d9d9d9;border:2px solid #333;box-sizing:border-box;border-width:4px 2px 2px 4px');
rect(980, 1072, 152, 31, 'background:#d9d9d9;border:2px solid #333;box-sizing:border-box;border-width:4px 4px 2px 2px');
label('activated', 904, 1087, 25.5, { color: '#222' });
label('suppressed', 1056, 1087, 25.5, { color: '#222' });
goPanel({ l: 829, t: 1105, r: 980, b: 1578, ml: 460, mt: 4, mb: 22, mr: 20 }, activatedRatio, activatedCount, activatedPadj, 0, .308, true, 5);
goPanel({ l: 980, t: 1105, r: 1132, b: 1578, ml: 3, mt: 4, mb: 22, mr: 8 }, suppressedRatio, suppressedCount, suppressedPadj, 9, .32, false, 5);
label('GeneRatio', 976, 1602, 25.5);

label('Count', 1143, 1124, 23, { anchor: 'left' });
[[1146, 4.5, '10'], [1161.5, 6, '20'], [1176.6, 7, '30']].forEach(e => {
  rect(1150 - e[1], e[0] - e[1], e[1] * 2, e[1] * 2, 'background:#000;border-radius:50%');
  label(e[2], 1160, e[0], 14, { anchor: 'left' });
});
label('p.adjust', 1143, 1232, 23, { anchor: 'left' });
rect(1143, 1246, 11, 52, 'background:linear-gradient(#3F55A5,#A8248C 35%,#D8106E 65%,#EE1C2E)');
[[1252.6, '0.040'], [1264, '0.035'], [1275, '0.030'], [1286, '0.025']].forEach(e => label(e[1], 1157, e[0], 14, { anchor: 'left' }));

// ---------- G
const foldStops = [[-1, '#3F4C9C'], [-.7, '#7464A8'], [-.4, '#A898C8'], [-.2, '#C8BEDC'], [0, '#FFFFFF'], [.5, '#F08A70'], [.8, '#E8502F'], [1, '#E60F23']];
const hubName = 'cellular response to stimulus';
const hubPos = [595, 693];
const edges = [];
geneNames.forEach((g, i) => edges.push([hubPos, [geneX[i], geneY[i]]]));
termNames.forEach((t, i) => sharedGenes.forEach((g, k) => edges.push([[termX[i], termY[i]], [sharedX[k], sharedY[k]]])));

const networkSets = [
  { data: pts([hubPos]), backgroundColor: '#E8C48C', borderWidth: 0, pointRadius: 13.5 },
  { data: termX.map((x, i) => ({ x: x, y: termY[i] })), backgroundColor: '#E8C48C', borderWidth: 0, pointRadius: 8 },
  { data: geneX.map((x, i) => ({ x: x, y: geneY[i] })), backgroundColor: geneFold.map(f => rampColor(foldStops, f)), borderWidth: 0, pointRadius: 6.5 },
  { data: sharedX.map((x, i) => ({ x: x, y: sharedY[i] })), backgroundColor: sharedFold.map(f => rampColor(foldStops, f)), borderWidth: 0, pointRadius: 6.5 }
].concat(edges.map(e => ({ data: pts(e), showLine: true, borderColor: '#BDBDBD', borderWidth: 3, pointRadius: 0 })));

const geneNotes = noteList(geneNames, geneLabelX, geneLabelY, 21).map(n => (n.text === 'Iglc1' ? Object.assign(n, { size: 17 }) : n));
panel({ l: 1195, t: 1030, r: 1944, b: 1613 }, {
  type: 'scatter',
  data: { datasets: networkSets },
  options: {
    scales: {
      x: { type: 'linear', display: false, min: -100, max: 1568 },
      y: { type: 'linear', display: false, min: 0, max: 1568, reverse: true }
    },
    plugins: { notes: { items: geneNotes.concat(
      noteList(sharedGenes, sharedLabelX, sharedLabelY, 21),
      noteList(termNames, termLabelX, termLabelY, 20, true),
      [{ text: hubName, x: 588, y: 742, size: 20, bold: true }]) } }
  }
});

label('size', 1842, 1155.6, 20, { anchor: 'left' });
[[1178.7, 6.7, '1', 1873], [1202.5, 10, '10', 1873], [1229, 12.5, '20', 1878], [1260.5, 14.5, '30', 1881]].forEach(e => {
  rect(1858 - e[1], e[0] - e[1], e[1] * 2, e[1] * 2, 'background:#000;border-radius:50%');
  label(e[2], e[3], e[0], 18, { anchor: 'left' });
});
label('fold change', 1841, 1306, 19.7, { anchor: 'left' });
rect(1852, 1338.6, 11, 52, 'background:linear-gradient(#E60F23,#FFFFFF 50%,#3F4C9C)');
[[1338, '1.0'], [1350, '0.5'], [1362, '0.0'], [1374, '−0.5'], [1386, '−1.0']].forEach(e => label(e[1], 1865, e[0], 16, { anchor: 'left' }));

// ---------- panel letters
[['A', 81, 16], ['B', 820, 16], ['C', 79, 527], ['D', 1262, 527], ['E', 12, 1058], ['F', 490, 1057], ['G', 1265, 1057]].forEach(e => {
  label(e[0], e[1], e[2], 39, { bold: true, color: '#231f20' });
});
</script>
</body>
</html>
